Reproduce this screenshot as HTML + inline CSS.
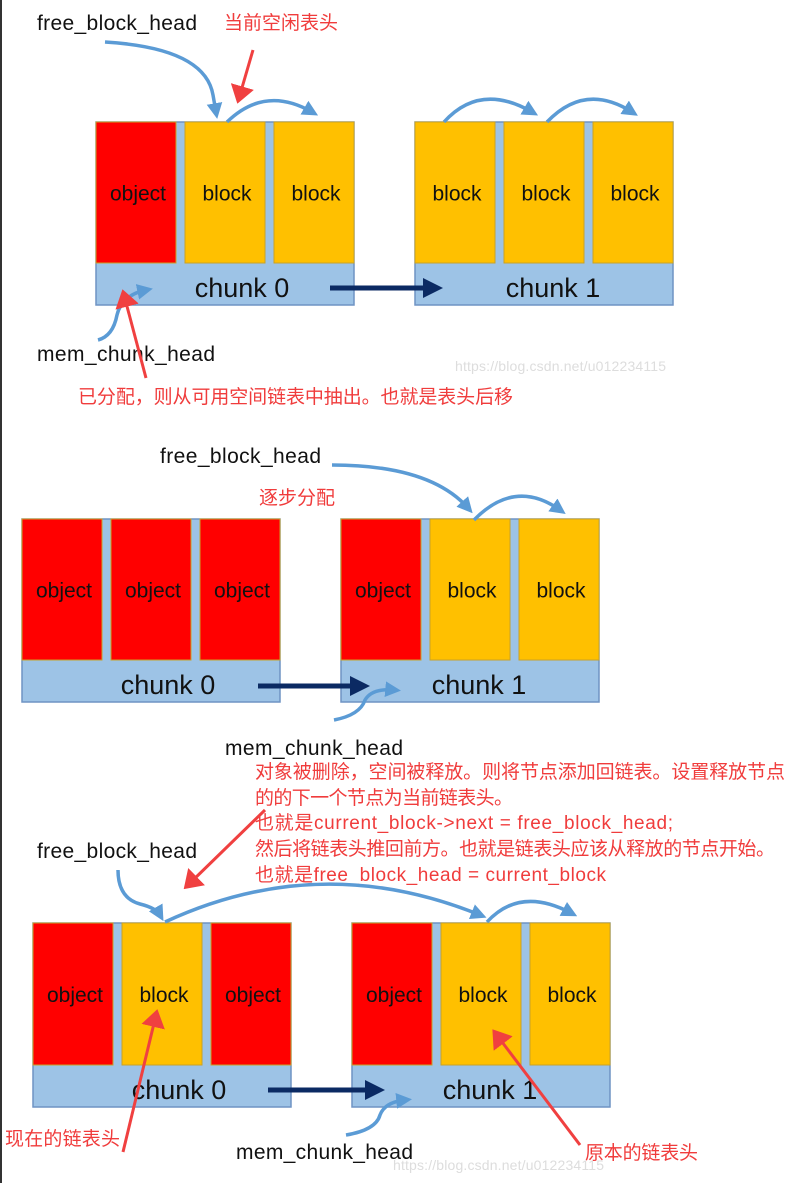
<!DOCTYPE html>
<html><head><meta charset="utf-8"><style>
html,body{margin:0;padding:0;background:#fff;}
svg{display:block;}
.lbl{font-family:"Liberation Sans Narrow","Liberation Sans",sans-serif;fill:#111;}
.cn{font-family:"Liberation Sans","Noto Sans CJK SC",sans-serif;fill:#f03c3c;}
.blue{fill:none;stroke:#5b9bd5;stroke-width:3.5;}
.redl{fill:none;stroke:#f04040;stroke-width:3;}
</style></head><body>
<svg width="801" height="1183" viewBox="0 0 801 1183" xmlns="http://www.w3.org/2000/svg">
<defs>
<marker id="bh" markerWidth="4.5" markerHeight="4.5" refX="2.5" refY="2.25" orient="auto" markerUnits="strokeWidth"><path d="M0,0 L4.5,2.25 L0,4.5 Z" fill="#5b9bd5"/></marker>
<marker id="rh" markerWidth="6" markerHeight="8" refX="4" refY="4" orient="auto" markerUnits="strokeWidth"><path d="M0,0 L6,4 L0,8 Z" fill="#f04040"/></marker>
<marker id="nh" markerWidth="4" markerHeight="4" refX="1" refY="2" orient="auto" markerUnits="strokeWidth"><path d="M0,0 L4,2 L0,4 Z" fill="#0b2a63"/></marker>
</defs>
<rect x="0" y="0" width="2" height="1183" fill="#333"/>
<g id="chunks"></g>

<!-- section 1 -->
<text class="lbl" x="37" y="30" font-size="21" textLength="160">free_block_head</text>
<text class="cn" x="224" y="29" font-size="19" textLength="114">当前空闲表头</text>
<text class="lbl" x="37" y="361" font-size="21" textLength="178">mem_chunk_head</text>
<text class="cn" x="78" y="403" font-size="19" textLength="435">已分配，则从可用空间链表中抽出。也就是表头后移</text>
<text x="455" y="371" font-family="Liberation Sans,sans-serif" font-size="14" fill="#ddd" textLength="211">https://blog.csdn.net/u012234115</text>
<path class="blue" marker-end="url(#bh)" d="M105,42 Q205,48 213,95 L216,112"/>
<path class="blue" marker-end="url(#bh)" d="M227,122 Q265,85 312,112"/>
<path class="blue" marker-end="url(#bh)" d="M444,122 Q480,82 532,112"/>
<path class="blue" marker-end="url(#bh)" d="M547,122 Q585,82 632,112"/>
<path class="blue" marker-end="url(#bh)" d="M98,340 Q113,336 117,315 Q122,295 146,290"/>
<path class="redl" marker-end="url(#rh)" d="M253,50 L239,98"/>
<path class="redl" marker-end="url(#rh)" d="M146,378 L124,295"/>

<!-- section 2 -->
<text class="lbl" x="160" y="463" font-size="21" textLength="161">free_block_head</text>
<text class="cn" x="259" y="504" font-size="19" textLength="76">逐步分配</text>
<text class="lbl" x="225" y="755" font-size="21" textLength="178">mem_chunk_head</text>
<path class="blue" d="M332,465 Q430,465 468,508" marker-end="url(#bh)"/>
<path class="blue" marker-end="url(#bh)" d="M474,520 Q515,478 560,510"/>
<path class="blue" marker-end="url(#bh)" d="M334,720 Q360,715 365,700 Q372,688 394,690"/>

<!-- section 3 -->
<g class="cn" font-size="19">
<text x="255" y="778" textLength="530">对象被删除，空间被释放。则将节点添加回链表。设置释放节点</text>
<text x="255" y="804" textLength="258">的的下一个节点为当前链表头。</text>
<text x="255" y="829" textLength="418">也就是current_block-&gt;next = free_block_head;</text>
<text x="255" y="855" textLength="520">然后将链表头推回前方。也就是链表头应该从释放的节点开始。</text>
<text x="255" y="881" textLength="351">也就是free_block_head = current_block</text>
</g>
<text class="lbl" x="37" y="858" font-size="21" textLength="160">free_block_head</text>
<text class="cn" x="5" y="1145" font-size="19" textLength="115">现在的链表头</text>
<text class="lbl" x="236" y="1159" font-size="21" textLength="177">mem_chunk_head</text>
<text class="cn" x="585" y="1159" font-size="19" textLength="113">原本的链表头</text>
<text x="393" y="1170" font-family="Liberation Sans,sans-serif" font-size="14" fill="#ddd" textLength="211">https://blog.csdn.net/u012234115</text>
<path class="blue" marker-end="url(#bh)" d="M118,870 Q118,898 140,904 Q156,908 160,915"/>
<path class="blue" marker-end="url(#bh)" d="M165,922 Q320,850 480,915"/>
<path class="blue" marker-end="url(#bh)" d="M487,922 Q520,886 571,913"/>
<path class="blue" marker-end="url(#bh)" d="M346,1135 Q376,1130 380,1115 Q385,1102 405,1100"/>
<path class="redl" marker-end="url(#rh)" d="M265,810 L188,885"/>
<path class="redl" marker-end="url(#rh)" d="M123,1152 L156,1015"/>
<path class="redl" marker-end="url(#rh)" d="M580,1145 L496,1034"/>
</svg>
<script>
const NS='http://www.w3.org/2000/svg';
const g=document.getElementById('chunks');
// [x, cellTop, barTop, barBottom, label, cells]
const chunks=[
 [96,122,263,305,'chunk 0',['object','block','block']],
 [415,122,263,305,'chunk 1',['block','block','block']],
 [22,519,660,702,'chunk 0',['object','object','object']],
 [341,519,660,702,'chunk 1',['object','block','block']],
 [33,923,1065,1107,'chunk 0',['object','block','object']],
 [352,923,1065,1107,'chunk 1',['object','block','block']]
];
const links=[[330,288,440],[258,686,367],[268,1090,382]];
function mk(t,a){const e=document.createElementNS(NS,t);for(const k in a)e.setAttribute(k,a[k]);g.appendChild(e);return e;}
chunks.forEach((c,i)=>{
 const [x,t,b,bb,lab,cells]=c;
 const bg=mk('rect',{x:x,y:t,width:258,height:bb-t,fill:'#9dc3e6',stroke:'#6f93c4','stroke-width':1.5});
 
 
 cells.forEach((n,j)=>{
  const cx=x+j*89;
  const r=mk('rect',{x:cx,y:t,width:80,height:b-t,fill:n==='object'?'#ff0000':'#ffc000',stroke:'#c9a227','stroke-width':1});
  
  
  const tx=mk('text',{x:cx+42,y:t+(b-t)/2+8,'text-anchor':'middle','font-size':21,class:'lbl'});
  tx.textContent=n;
  
  
 });
 const off=lab==='chunk 0'?146:138;
 const ct=mk('text',{x:x+off,y:bb-8,'text-anchor':'middle','font-size':27,class:'lbl'});
 ct.textContent=lab;
 
 
});
links.forEach(l=>{
 const p=mk('path',{d:`M${l[0]},${l[1]} L${l[2]-12},${l[1]}`,stroke:'#0b2a63','stroke-width':5,fill:'none','marker-end':'url(#nh)'});
 
 
});
</script>
</body></html>
